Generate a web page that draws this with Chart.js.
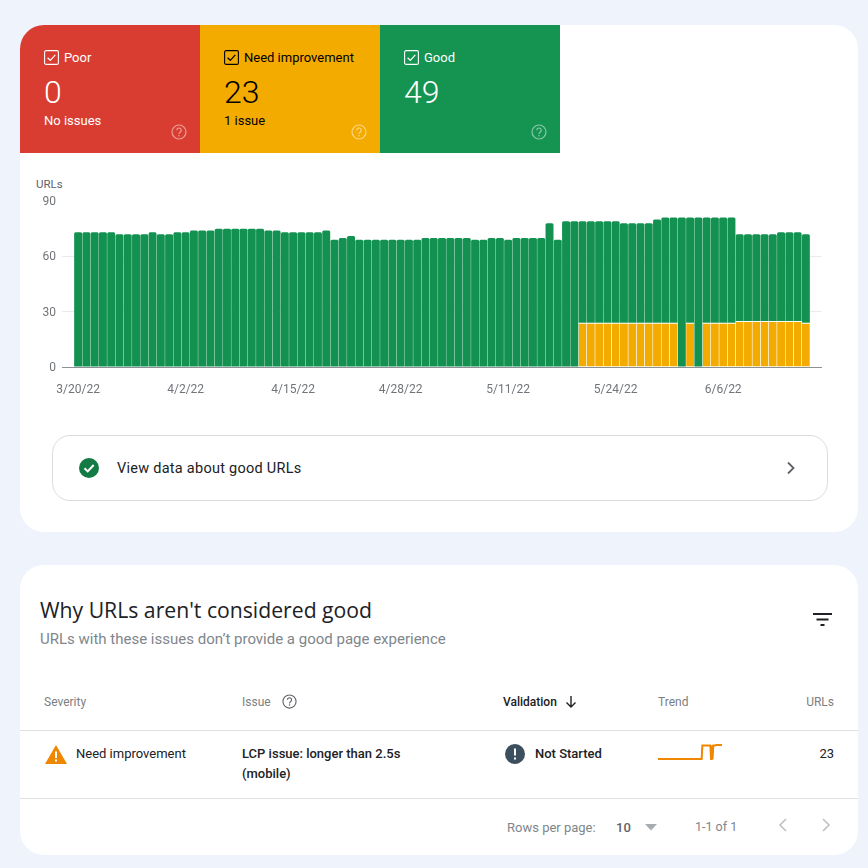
<!DOCTYPE html>
<html>
<head>
<meta charset="utf-8">
<script src="https://cdn.jsdelivr.net/npm/chart.js@4"></script>
<style>
  html, body { margin: 0; padding: 0; }
  body { width: 868px; height: 868px; background: #eff4fc; position: relative; overflow: hidden; font-family: Roboto, sans-serif; }
  .card { position: absolute; left: 20px; width: 838px; background: #fff; border-radius: 24px; }
  .tile { position: absolute; top: 25px; width: 180px; height: 128px; }
  .t { position: absolute; white-space: nowrap; line-height: 1; transform: translateY(-50%); }
  .r { text-align: right; }
  .med { font-weight: 500; }
  .big { font-size: 32px; font-weight: 350; }
  svg { position: absolute; overflow: visible; }
  .line { position: absolute; left: 20px; width: 838px; height: 1px; background: #e0e0e0; }
  .head { font-size: 12px; color: #7b7f83; }
</style>
</head>
<body>
<svg width="0" height="0" style="position:absolute">
  <symbol id="check" viewBox="0 0 15 15"><rect x="0.6" y="0.6" width="13.8" height="13.8" rx="1.5" fill="none" stroke="currentColor" stroke-width="1.1"/><path d="M3.6 7.7l2.7 2.6 5-5.4" fill="none" stroke="currentColor" stroke-width="1.2"/></symbol>
  <symbol id="help" viewBox="0 0 16 16"><circle cx="8" cy="8" r="7" fill="none" stroke="currentColor" stroke-width="1.2"/><path d="M5.8 6.2a2.2 2.2 0 1 1 3.5 1.8c-.8.6-1.3 1-1.3 2" fill="none" stroke="currentColor" stroke-width="1.2"/><circle cx="8" cy="11.8" r=".8" fill="currentColor"/></symbol>
</svg>

<div class="card" style="top:25px;height:507px"></div>
<div class="card" style="top:565px;height:290px"></div>

<div class="tile" style="left:20px;background:#d93d32;border-top-left-radius:24px"></div>
<div class="tile" style="left:200px;background:#f4ab00"></div>
<div class="tile" style="left:380px;background:#149351"></div>

<svg style="left:44px;top:50px;color:#fff" width="15" height="15"><use href="#check"/></svg>
<div class="t" style="left:64px;top:56.5px;font-size:13px;color:#fff">Poor</div>
<div class="t big" style="left:44px;top:91.5px;color:#fff">0</div>
<div class="t" style="left:44px;top:120px;font-size:13px;color:#fff">No issues</div>
<svg style="left:171px;top:124px;color:#fff;opacity:.5" width="16" height="16"><use href="#help"/></svg>

<svg style="left:224px;top:50px;color:#000" width="15" height="15"><use href="#check"/></svg>
<div class="t" style="left:244px;top:56.5px;font-size:13px;color:#000">Need improvement</div>
<div class="t big" style="left:224px;top:91.5px;color:#000">23</div>
<div class="t" style="left:224px;top:120px;font-size:13px;color:#000">1 issue</div>
<svg style="left:351px;top:124px;color:#fff;opacity:.5" width="16" height="16"><use href="#help"/></svg>

<svg style="left:404px;top:50px;color:#fff" width="15" height="15"><use href="#check"/></svg>
<div class="t" style="left:424px;top:56.5px;font-size:13px;color:#fff">Good</div>
<div class="t big" style="left:404px;top:91.5px;color:#fff">49</div>
<svg style="left:531px;top:124px;color:#fff;opacity:.5" width="16" height="16"><use href="#help"/></svg>

<div class="t" style="left:36px;top:184.5px;font-size:11.5px;color:#5f6368">URLs</div>
<div style="position:absolute;left:20px;top:170px;width:802px;height:230px"><canvas id="chartUrls"></canvas></div>

<div style="position:absolute;left:52px;top:435px;width:774px;height:64px;border:1px solid #dadce0;border-radius:18px"></div>
<svg style="left:79px;top:458px" width="20" height="20"><circle cx="10" cy="10" r="10" fill="#137a43"/><path d="M5.5 10.3l3.2 3.1 6-6.4" fill="none" stroke="#fff" stroke-width="2"/></svg>
<div class="t" style="left:117px;top:468.7px;font-size:14.5px;letter-spacing:.26px;color:#202124">View data about good URLs</div>
<svg style="left:786px;top:461px" width="12" height="14"><path d="M2 1.5l5.5 5.5-5.5 5.5" fill="none" stroke="#5f6368" stroke-width="1.8"/></svg>

<div class="t" style="left:40px;top:610px;font-size:21.2px;font-family:'Open Sans',sans-serif;color:#202124">Why URLs aren't considered good</div>
<div class="t" style="left:40px;top:639px;font-size:15px;color:#80868b">URLs with these issues don’t provide a good page experience</div>
<svg style="left:813px;top:613px" width="19" height="13"><path d="M0 1h19M3.5 6.5h12M7.5 12h4" stroke="#202124" stroke-width="2"/></svg>

<div class="t head" style="left:44px;top:702px">Severity</div>
<div class="t head" style="left:242px;top:702px">Issue</div>
<svg style="left:282px;top:693.5px;color:#5f6368" width="15" height="15"><use href="#help"/></svg>
<div class="t head med" style="left:503px;top:702px;color:#202124">Validation</div>
<svg style="left:565px;top:696px" width="12" height="12"><path d="M6 0v11M1.5 6.5l4.5 4.5 4.5-4.5" fill="none" stroke="#202124" stroke-width="1.4"/></svg>
<div class="t head" style="left:658px;top:702px">Trend</div>
<div class="t head r" style="right:34px;top:702px">URLs</div>
<div class="line" style="top:730px"></div>

<svg style="left:45px;top:745px" width="22" height="19"><path d="M11 0l11 19H0z" fill="#ef8700"/><path d="M11 6.5v6.5M11 14.5v2" stroke="#fff" stroke-width="2"/></svg>
<div class="t" style="left:76px;top:753px;font-size:13px;color:#202124">Need improvement</div>
<div class="t med" style="left:242px;top:753px;font-size:13px;color:#202124">LCP issue: longer than 2.5s</div>
<div class="t med" style="left:242px;top:773px;font-size:13px;color:#202124">(mobile)</div>
<svg style="left:505px;top:744px" width="20" height="20"><circle cx="10" cy="10" r="10" fill="#3c4f5e"/><path d="M10 4.5v7M10 13.5v2" stroke="#fff" stroke-width="2"/></svg>
<div class="t med" style="left:535px;top:753px;font-size:13px;color:#202124">Not Started</div>
<div style="position:absolute;left:658px;top:742px;width:64px;height:20px"><canvas id="chartTrend"></canvas></div>
<div class="t r" style="right:34px;top:753px;font-size:13px;color:#202124">23</div>
<div class="line" style="top:798px"></div>

<div class="t" style="left:507px;top:827px;font-size:13px;color:#80868b">Rows per page:</div>
<div class="t med" style="left:616px;top:827px;font-size:13px;color:#5f6368">10</div>
<svg style="left:645px;top:824px" width="12" height="7"><path d="M0 0h12L6 6.5z" fill="#a9acaf"/></svg>
<div class="t" style="left:695px;top:827px;font-size:12.5px;color:#80868b">1-1 of 1</div>
<svg style="left:778px;top:818px" width="9" height="14"><path d="M8 1L2 7l6 6" fill="none" stroke="#bdc1c6" stroke-width="1.6"/></svg>
<svg style="left:822px;top:818px" width="9" height="14"><path d="M1 1l6 6-6 6" fill="none" stroke="#bdc1c6" stroke-width="1.6"/></svg>

<script>
const goodUrls = [
  73, 73, 73, 73, 73, 72, 72, 72, 72, 73, 72, 72, 73, 73, 74, 74, 74,
  75, 75, 75, 75, 75, 75, 74, 74, 73, 73, 73, 73, 73, 74, 69, 70, 71,
  69, 69, 69, 69, 69, 69, 69, 69, 70, 70, 70, 70, 70, 70, 69, 69, 70,
  70, 69, 70, 70, 70, 70, 78, 69, 79, 79, 55, 55, 55, 55, 55, 54, 54,
  54, 54, 56, 57, 57, 81, 57, 81, 57, 57, 57, 57, 47, 47, 47, 47, 47,
  48, 48, 48, 48
];
const needImprovementUrls = [
  0, 0, 0, 0, 0, 0, 0, 0, 0, 0, 0, 0, 0, 0, 0, 0, 0,
  0, 0, 0, 0, 0, 0, 0, 0, 0, 0, 0, 0, 0, 0, 0, 0, 0,
  0, 0, 0, 0, 0, 0, 0, 0, 0, 0, 0, 0, 0, 0, 0, 0, 0,
  0, 0, 0, 0, 0, 0, 0, 0, 0, 0, 24, 24, 24, 24, 24, 24, 24,
  24, 24, 24, 24, 24, 0, 24, 0, 24, 24, 24, 24, 25, 25, 25, 25, 25,
  25, 25, 25, 24
];
const dateTicks = [0, 13, 26, 39, 52, 65, 78];
const dateLabels = ['3/20/22', '4/2/22', '4/15/22', '4/28/22', '5/11/22', '5/24/22', '6/6/22'];
const urlTicks = [0, 30, 60, 90];

const dayIndex = goodUrls.map((v, i) => i);
const textColor = '#70757a';

new Chart(document.getElementById('chartUrls'), {
  type: 'bar',
  data: {
    labels: dayIndex,
    datasets: [
      {
        label: 'Need improvement',
        data: needImprovementUrls,
        backgroundColor: '#f4ab00',
        borderColor: '#fff',
        // white cap only where there is a yellow bar to sit on
        borderWidth: c => ({ top: c.raw > 0 ? 1 : 0, left: 0, right: 0, bottom: 0 }),
        borderSkipped: false,
      },
      {
        label: 'Good',
        data: goodUrls,
        backgroundColor: '#129150',
        borderRadius: { topLeft: 1.5, topRight: 1.5 },
        borderSkipped: false,
      },
    ],
  },
  options: {
    responsive: true,
    maintainAspectRatio: false,
    animation: false,
    layout: { padding: { top: 31, left: 0, right: 0, bottom: 0 } },
    datasets: { bar: { categoryPercentage: 1, barPercentage: 0.96 } },
    plugins: { legend: { display: false }, tooltip: { enabled: false } },
    scales: {
      x: {
        type: 'linear',
        offset: false,
        stacked: true,
        min: -1.95,
        max: 89.95,
        grid: { display: false },
        border: { display: false },
        afterBuildTicks: s => { s.ticks = dateTicks.map(v => ({ value: v })); },
        afterFit: s => { s.height = 33; },
        ticks: {
          autoSkip: false,
          maxRotation: 0,
          padding: 8,
          color: textColor,
          font: { family: 'Roboto', size: 12 },
          callback: v => dateLabels[dateTicks.indexOf(v)],
        },
      },
      y: {
        stacked: true,
        min: 0,
        max: 90,
        afterBuildTicks: s => { s.ticks = urlTicks.map(v => ({ value: v })); },
        afterFit: s => { s.width = 42; },
        border: { display: false },
        grid: {
          drawTicks: false,
          color: c => c.tick.value === 0 ? '#8d9094' : c.tick.value === 90 ? 'rgba(0,0,0,0)' : '#e8eaed',
        },
        ticks: {
          padding: 6,
          labelOffset: 1,
          color: textColor,
          font: { family: 'Roboto', size: 12 },
        },
      },
    },
  },
});

// small trend line in the table row
new Chart(document.getElementById('chartTrend'), {
  type: 'line',
  data: {
    labels: dayIndex,
    datasets: [{
      data: needImprovementUrls,
      borderColor: '#ef8700',
      borderWidth: 2,
      pointRadius: 0,
      tension: 0,
      clip: false,
    }],
  },
  options: {
    responsive: true,
    maintainAspectRatio: false,
    animation: false,
    plugins: { legend: { display: false }, tooltip: { enabled: false } },
    scales: {
      x: { display: false },
      y: { display: false, min: -5.4, max: 30.3 },
    },
  },
});
</script>
</body>
</html>
